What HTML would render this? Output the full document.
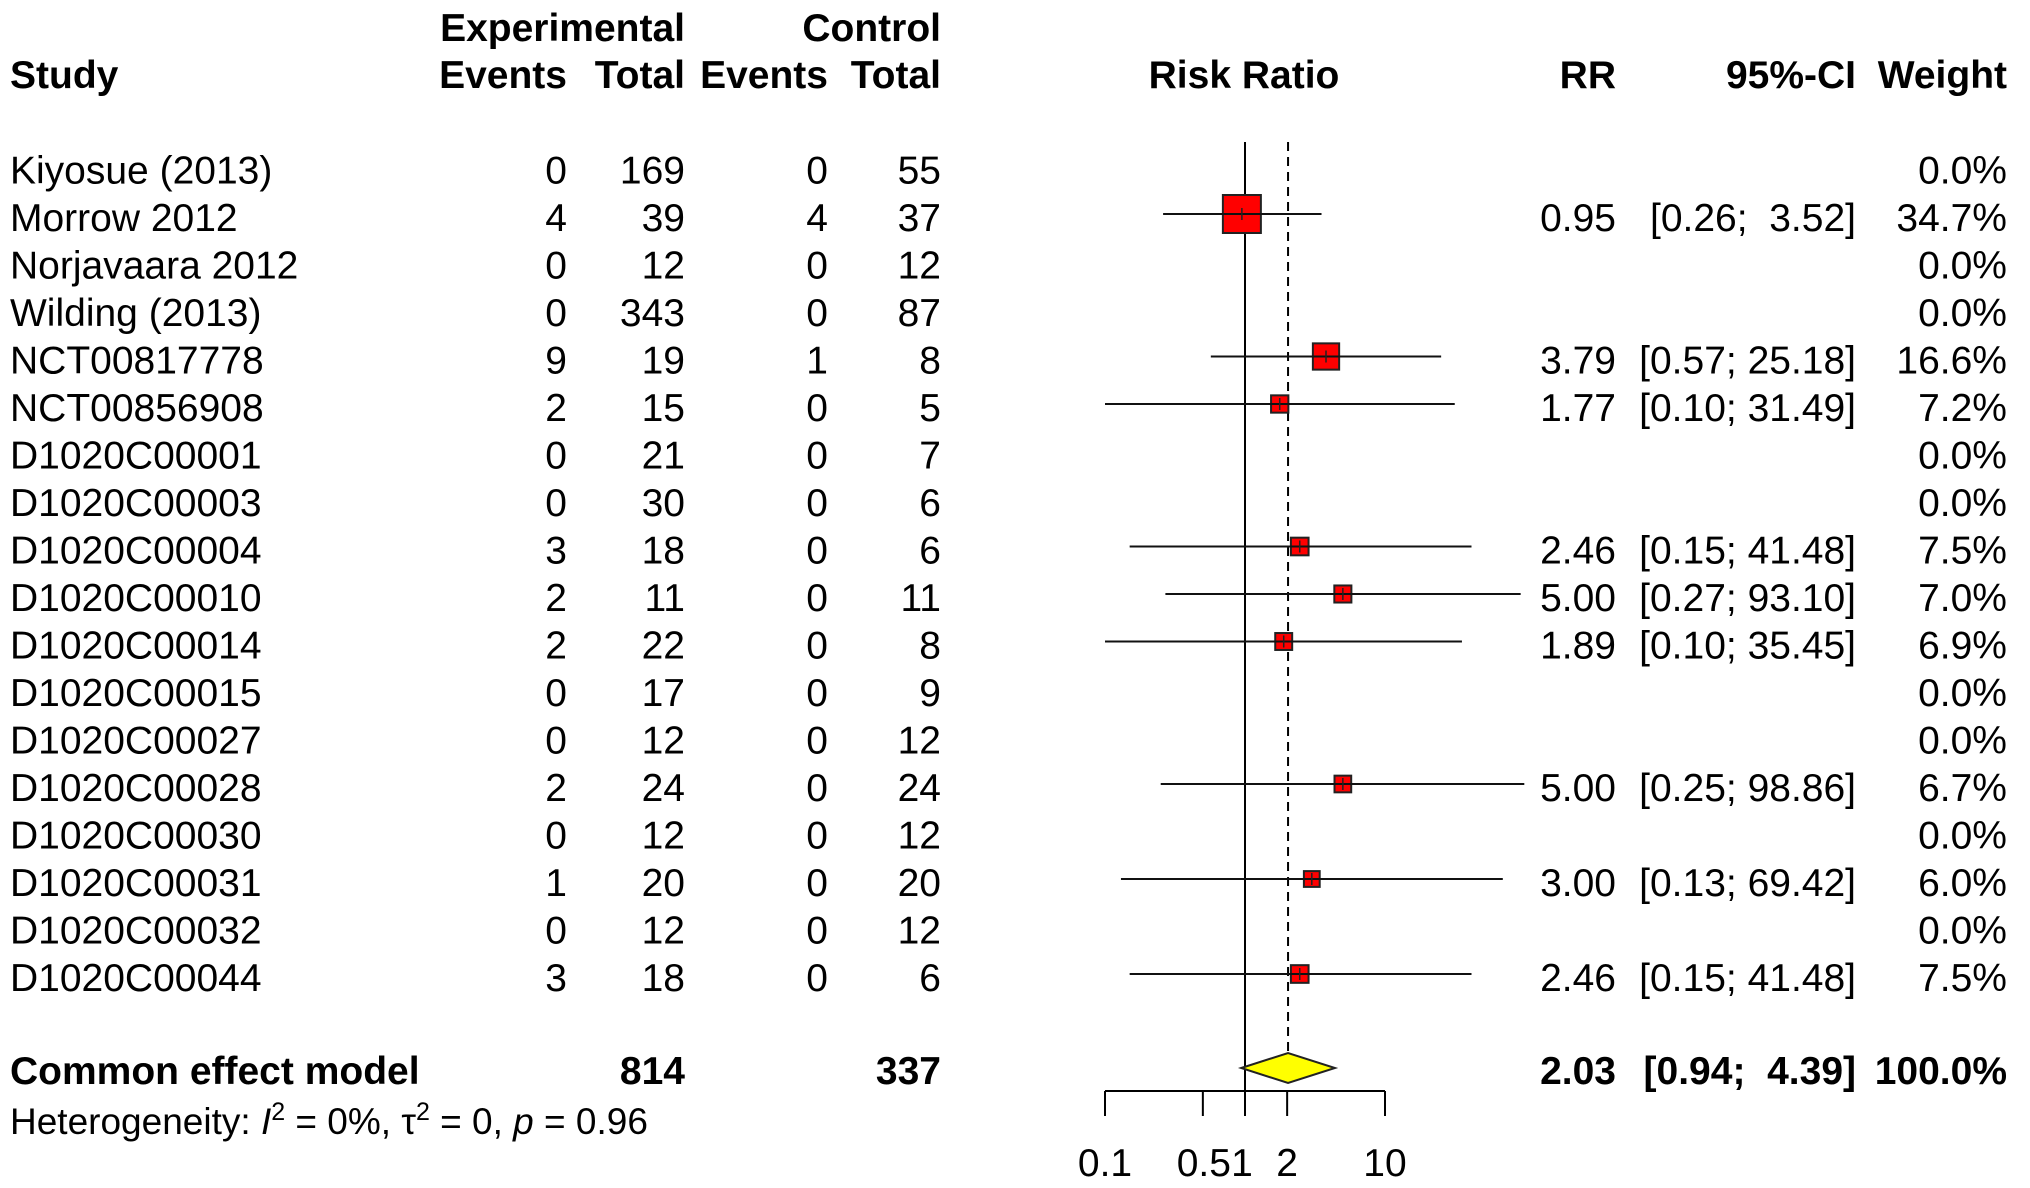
<!DOCTYPE html>
<html><head><meta charset="utf-8"><style>
body{margin:0;background:#fff}
svg{display:block}
text{font-family:"Liberation Sans",Arial,sans-serif;font-size:39px;fill:#000}
.b{font-weight:bold}
</style></head><body>
<svg id="chart" width="2030" height="1188" viewBox="0 0 2030 1188">
<text class="b" x="685" y="41" text-anchor="end">Experimental</text>
<text class="b" x="941" y="41" text-anchor="end">Control</text>
<text class="b" x="10" y="88">Study</text>
<text class="b" x="567" y="88" text-anchor="end">Events</text>
<text class="b" x="685" y="88" text-anchor="end">Total</text>
<text class="b" x="828" y="88" text-anchor="end">Events</text>
<text class="b" x="941" y="88" text-anchor="end">Total</text>
<text class="b" x="1244" y="88" text-anchor="middle">Risk Ratio</text>
<text class="b" x="1616" y="88" text-anchor="end">RR</text>
<text class="b" x="1856" y="88" text-anchor="end">95%-CI</text>
<text class="b" x="2007" y="88" text-anchor="end">Weight</text>
<g id="rows"></g>
<g id="plot"></g>
<text class="b" x="10" y="1084">Common effect model</text>
<text class="b" x="685" y="1084" text-anchor="end">814</text>
<text class="b" x="941" y="1084" text-anchor="end">337</text>
<text class="b" x="1616" y="1084" text-anchor="end">2.03</text>
<text class="b" x="1856" y="1084" text-anchor="end" xml:space="preserve" style="white-space:pre">[0.94;  4.39]</text>
<text class="b" x="2007" y="1084" text-anchor="end">100.0%</text>
<text x="10" y="1134" style="font-size:37px">Heterogeneity: <tspan font-style="italic">I</tspan><tspan dy="-14" style="font-size:25px">2</tspan><tspan dy="14"> = 0%, τ</tspan><tspan dy="-14" style="font-size:25px">2</tspan><tspan dy="14"> = 0, </tspan><tspan font-style="italic">p</tspan> = 0.96</text>
</svg>
<script>
const studies=["Kiyosue (2013)","Morrow 2012","Norjavaara 2012","Wilding (2013)","NCT00817778","NCT00856908","D1020C00001","D1020C00003","D1020C00004","D1020C00010","D1020C00014","D1020C00015","D1020C00027","D1020C00028","D1020C00030","D1020C00031","D1020C00032","D1020C00044"];
const expEvents=[0,4,0,0,9,2,0,0,3,2,2,0,0,2,0,1,0,3];
const expTotal=[169,39,12,343,19,15,21,30,18,11,22,17,12,24,12,20,12,18];
const ctrlEvents=[0,4,0,0,1,0,0,0,0,0,0,0,0,0,0,0,0,0];
const ctrlTotal=[55,37,12,87,8,5,7,6,6,11,8,9,12,24,12,20,12,6];
const rr=[null,0.95,null,null,3.79,1.77,null,null,2.46,5.00,1.89,null,null,5.00,null,3.00,null,2.46];
const lo=[null,0.26,null,null,0.57,0.10,null,null,0.15,0.27,0.10,null,null,0.25,null,0.13,null,0.15];
const hi=[null,3.52,null,null,25.18,31.49,null,null,41.48,93.10,35.45,null,null,98.86,null,69.42,null,41.48];
const weight=[0.0,34.7,0.0,0.0,16.6,7.2,0.0,0.0,7.5,7.0,6.9,0.0,0.0,6.7,0.0,6.0,0.0,7.5];
const pooled=[2.03,0.94,4.39];
const ticks=[0.1,0.5,1,2,10];
const tickLabels=["0.1","0.5","1","2","10"];

const NS="http://www.w3.org/2000/svg";
const X=v=>1245+140*Math.log10(v);
const Y=i=>166.5+47.5*i;
const rows=document.getElementById('rows'), plot=document.getElementById('plot');
function mk(p,tag,a,txt){const e=document.createElementNS(NS,tag);for(const k in a)e.setAttribute(k,a[k]);if(txt!=null)e.textContent=txt;p.appendChild(e);return e;}
function f2(v){return v.toFixed(2);}
function pad(s,n){while(s.length<n)s=' '+s;return s;}

let l=mk(plot,'line',{x1:X(1),x2:X(1),y1:142,y2:1091,stroke:'#000','stroke-width':2});


l=mk(plot,'line',{x1:X(pooled[0]),x2:X(pooled[0]),y1:142,y2:1053,stroke:'#000','stroke-width':2,'stroke-dasharray':'9,6'});



studies.forEach((s,i)=>{
  const y=Y(i), by=y+17;
  let t=mk(rows,'text',{x:10,y:by},s);
  
  
  t=mk(rows,'text',{x:567,y:by,'text-anchor':'end'},expEvents[i]);
  
  
  t=mk(rows,'text',{x:685,y:by,'text-anchor':'end'},expTotal[i]);
  
  
  t=mk(rows,'text',{x:828,y:by,'text-anchor':'end'},ctrlEvents[i]);
  
  
  t=mk(rows,'text',{x:941,y:by,'text-anchor':'end'},ctrlTotal[i]);
  
  
  t=mk(rows,'text',{x:2007,y:by,'text-anchor':'end'},weight[i].toFixed(1)+'%');
  
  
  if(rr[i]!=null){
    t=mk(rows,'text',{x:1616,y:by,'text-anchor':'end'},f2(rr[i]));
    
    
    t=mk(rows,'text',{x:1856,y:by,'text-anchor':'end','xml:space':'preserve',style:'white-space:pre'},'['+f2(lo[i])+';'+pad(f2(hi[i]),6)+']');
    
    
    const sz=6.45*Math.sqrt(weight[i]), cx=X(rr[i]);
    const r=mk(plot,'rect',{x:cx-sz/2,y:y-sz/2,width:sz,height:sz,fill:'#f00',stroke:'#222','stroke-width':2});
    
    
    const ci=mk(plot,'line',{x1:X(lo[i]),x2:X(hi[i]),y1:y,y2:y,stroke:'#111','stroke-width':2});
    
    
    const c=mk(plot,'line',{x1:cx,x2:cx,y1:y-6,y2:y+6,stroke:'#222','stroke-width':1.5});
    
    
  }
});
const dy=1068;
const d=mk(plot,'polygon',{points:`${X(pooled[1])},${dy} ${X(pooled[0])},${dy-15} ${X(pooled[2])},${dy} ${X(pooled[0])},${dy+15}`,fill:'#ff0',stroke:'#222','stroke-width':2});


const ax=mk(plot,'line',{x1:X(ticks[0]),x2:X(ticks[ticks.length-1]),y1:1091,y2:1091,stroke:'#000','stroke-width':2});


ticks.forEach((v,k)=>{
  const tk=mk(plot,'line',{x1:X(v),x2:X(v),y1:1091,y2:1116,stroke:'#000','stroke-width':2});
  
  
});
const tl=mk(plot,'text',{x:0,y:1176});


ticks.forEach((v,k)=>{
  const anchorX = k==1? X(v)+1 : (k==2? X(v)-3 : X(v));
  const ts=mk(tl,'tspan',{x:anchorX,'text-anchor':'middle'},tickLabels[k]);
  
  
});
</script>
</body></html>
